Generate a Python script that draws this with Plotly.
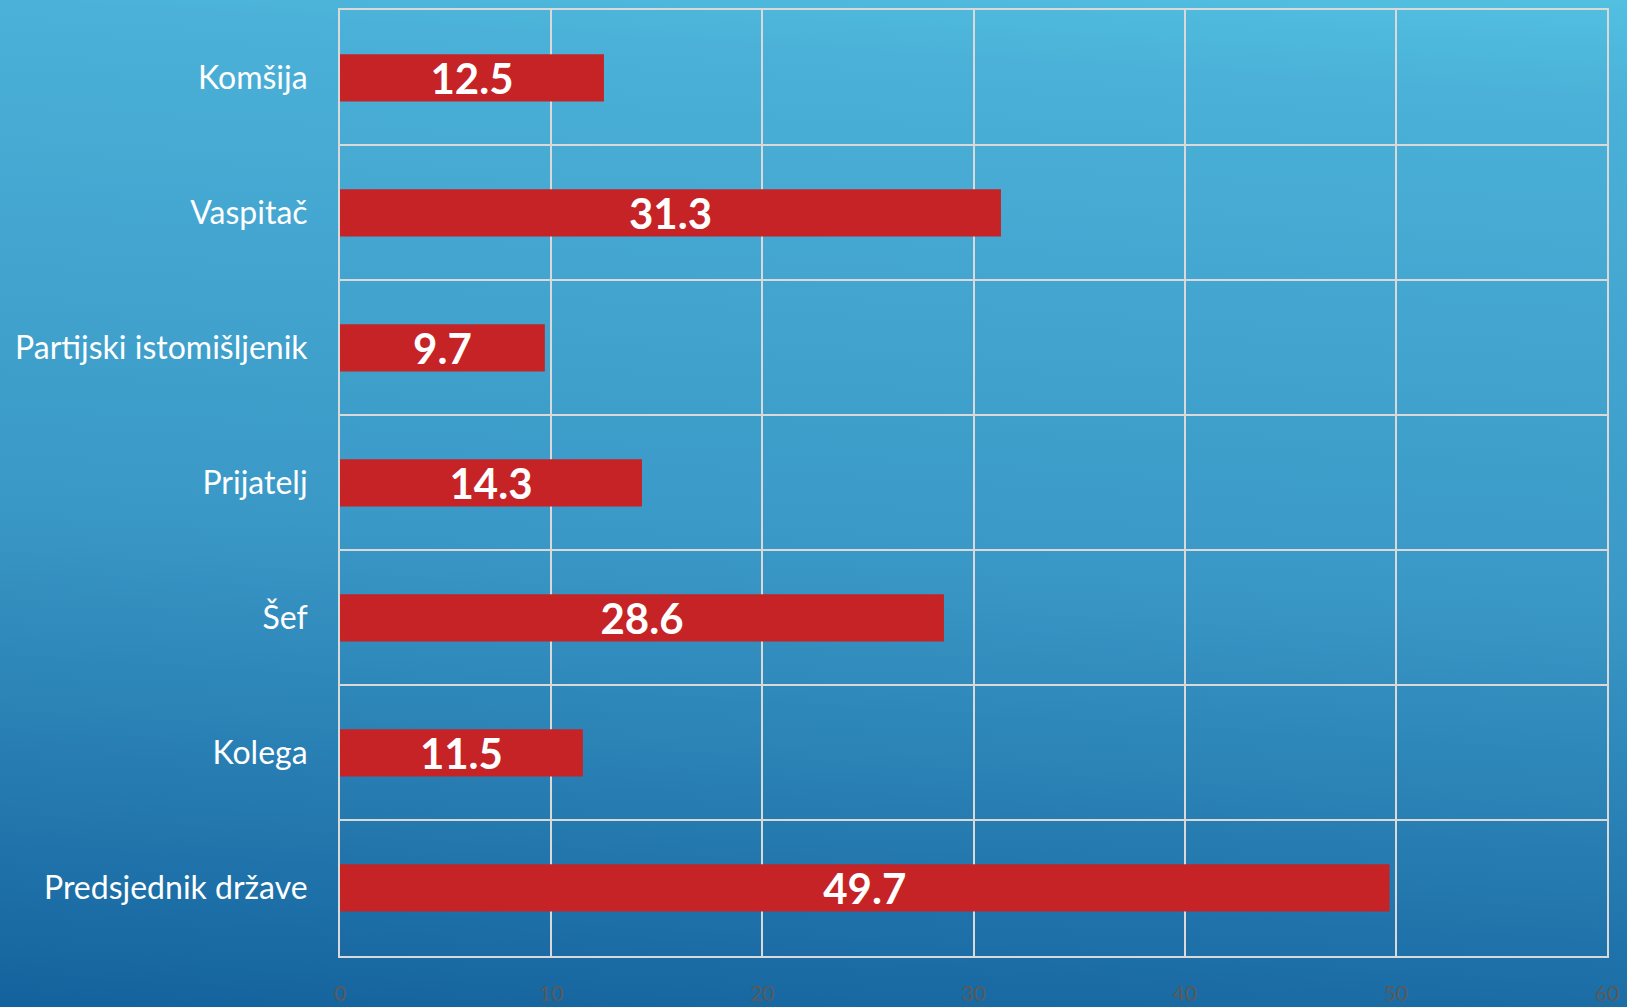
import base64
import plotly.graph_objects as go

categories = ["Komšija", "Vaspitač", "Partijski istomišljenik", "Prijatelj", "Šef", "Kolega", "Predsjednik države"]
values = [12.5, 31.3, 9.7, 14.3, 28.6, 11.5, 49.7]
value_labels = ["12.5", "31.3", "9.7", "14.3", "28.6", "11.5", "49.7"]
x_ticks = [0, 10, 20, 30, 40, 50, 60]

W, H = 1627, 1007
L, R, T, B = 340, 1607, 10.4, 955.5

svg = f'''<svg xmlns="http://www.w3.org/2000/svg" width="{W}" height="{H}" viewBox="0 0 {W} {H}" preserveAspectRatio="none">
<defs><linearGradient id="g" gradientUnits="userSpaceOnUse" x1="0" y1="{H}" x2="67" y2="-95">
<stop offset="0" stop-color="#14629D"/>
<stop offset="0.455" stop-color="#3A98C6"/>
<stop offset="0.91" stop-color="#4BB1D8"/>
<stop offset="1" stop-color="#52C0E1"/>
</linearGradient></defs>
<rect width="{W}" height="{H}" fill="url(#g)"/></svg>'''
src = "data:image/svg+xml;base64," + base64.b64encode(svg.encode()).decode()

fig = go.Figure()
fig.add_trace(go.Bar(
    x=values, y=categories, orientation="h",
    marker=dict(color="#C62326", line=dict(width=0)),
    text=value_labels, textposition="inside", insidetextanchor="middle",
    textangle=0, constraintext="none",
    textfont=dict(family="Lato", size=42, color="white", weight="bold"),
    hoverinfo="skip",
))

fig.update_layout(
    width=W, height=H,
    margin=dict(l=0, r=0, t=0, b=0),
    paper_bgcolor="#2A86BC",
    plot_bgcolor="rgba(0,0,0,0)",
    showlegend=False,
    bargap=0.65,
    images=[dict(source=src, xref="paper", yref="paper", x=0, y=1, sizex=1, sizey=1,
                 sizing="stretch", xanchor="left", yanchor="top", layer="below")],
    xaxis=dict(
        domain=[L / W, R / W], range=[0, 60], tickvals=x_ticks,
        showgrid=True, gridcolor="#D9D9D9", gridwidth=2,
        showline=True, linecolor="#D9D9D9", linewidth=2, mirror=True,
        zeroline=False, ticks="",
        tickfont=dict(family="Lato", size=21, color="#5A5A5A"),
        ticklabelstandoff=18, automargin=False, fixedrange=True,
    ),
    yaxis=dict(
        domain=[1 - B / H, 1 - T / H], autorange="reversed",
        type="category", tickson="boundaries",
        showgrid=True, gridcolor="#D9D9D9", gridwidth=2,
        showline=True, linecolor="#D9D9D9", linewidth=2, mirror=True,
        zeroline=False, ticks="",
        tickfont=dict(family="Lato", size=32, color="white"),
        ticklabelstandoff=24, automargin=False, fixedrange=True,
    ),
)

fig.write_html("out.html", config={"displayModeBar": False},
               post_script="document.body.style.margin='0';document.body.style.overflow='hidden';")
